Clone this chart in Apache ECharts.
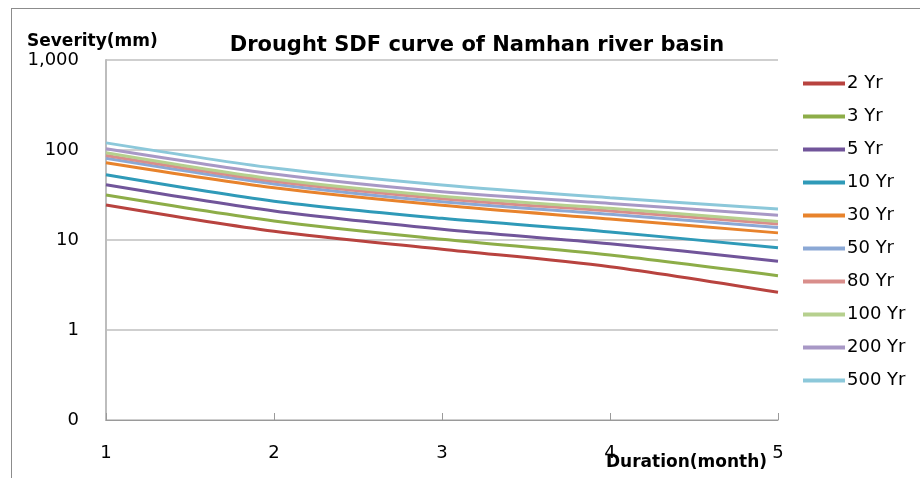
<!DOCTYPE html>
<html><head><meta charset="utf-8">
<script src="https://cdn.jsdelivr.net/npm/echarts@6/dist/echarts.min.js"></script>
<style>html,body{margin:0;padding:0;background:#fff;overflow:hidden}
#wrap{position:relative;width:920px;height:478px;overflow:hidden}
#frame{position:absolute;left:11px;top:8px;width:1000px;height:1000px;border:1px solid #8c8c8c;box-sizing:border-box}
#c{position:absolute;left:0;top:0;width:920px;height:478px}</style>
</head><body><div id="wrap"><div id="frame"></div><div id="c"></div></div>
<script>
const durations = [1, 2, 3, 4, 5];
const seriesNames = ['2 Yr','3 Yr','5 Yr','10 Yr','30 Yr','50 Yr','80 Yr','100 Yr','200 Yr','500 Yr'];
const yr2   = [24.5, 12.5, 7.9, 5.05, 2.62];
const yr3   = [31.6, 16.3, 10.2, 6.8, 4.0];
const yr5   = [41, 21, 13.2, 9.1, 5.8];
const yr10  = [53, 27, 17.4, 12.3, 8.2];
const yr30  = [72, 38, 24.3, 17.1, 12.0];
const yr50  = [81, 42, 26.6, 19.3, 13.8];
const yr80  = [87, 45, 28.8, 21, 15.1];
const yr100 = [93, 47.5, 30.6, 22.5, 16.1];
const yr200 = [103, 54, 34.4, 25.5, 18.8];
const yr500 = [120, 63, 40.8, 29.5, 22.1];
const yTickLabels = {0.1:'0', 1:'1', 10:'10', 100:'100', 1000:'1,000'};
const colors = ['#B8433F','#8DAD48','#71559A','#2F9AB8','#E8832C','#8BA8D5','#D98E8B','#B6D08E','#A898C6','#8CC8DA'];
const allData = [yr2,yr3,yr5,yr10,yr30,yr50,yr80,yr100,yr200,yr500];

const FONT = '"DejaVu Sans", sans-serif';
const chart = echarts.init(document.getElementById('c'), null, {renderer:'canvas'});
chart.setOption({
  animation: false,
  color: colors,
  title: {
    text: 'Drought SDF curve of Namhan river basin',
    left: 472, top: 30, textAlign: 'center',
    textStyle: {fontFamily: FONT, fontSize: 21, fontWeight: 'bold', color: '#000'}
  },
  graphic: [
    {type:'text', left:27, top:33, style:{text:'Severity(mm)', font:'bold 17px "DejaVu Sans", sans-serif', fill:'#000'}},
    {type:'text', left:606, top:454, style:{text:'Duration(month)', font:'bold 17px "DejaVu Sans", sans-serif', fill:'#000'}, z:10}
  ],
  legend: {
    orient: 'vertical',
    left: 798, top: 69,
    itemWidth: 42, itemHeight: 4, itemGap: 14,
    icon: 'rect',
    data: seriesNames,
    textStyle: {fontFamily: FONT, fontSize: 18, color: '#000', lineHeight: 19, padding:[0,0,0,-3]}
  },
  grid: {left: 106, right: 142, top: 60, bottom: 58, containLabel: false},
  xAxis: {
    type: 'value', min: 1, max: 5, interval: 1,
    axisLine: {lineStyle: {color: '#9a9a9a', width: 1}},
    axisTick: {inside: true, length: 7, lineStyle: {color: '#9a9a9a'}},
    axisLabel: {margin: 24, fontFamily: FONT, fontSize: 18, color: '#000'},
    splitLine: {show: false}
  },
  yAxis: {
    type: 'log', logBase: 10, min: 0.1, max: 1000,
    axisLine: {show: true, lineStyle: {color: '#bdbdbd', width: 2}},
    axisTick: {show: false},
    minorTick: {show: false},
    axisLabel: {margin: 27, fontFamily: FONT, fontSize: 18, color: '#000',
      formatter: v => { const k = Math.round(Math.log10(v)); return yTickLabels[Math.pow(10,k) >= 1 ? Math.pow(10,k) : 0.1] ?? String(v); }},
    splitLine: {show: true, lineStyle: {color: '#bfbfbf', width: 1.5}}
  },
  series: seriesNames.map((n, i) => ({
    name: n, type: 'line', smooth: 0.3, showSymbol: false, symbol: 'none',
    lineStyle: {width: 3, color: colors[i]}, itemStyle: {color: colors[i]},
    data: durations.map((d, j) => [d, allData[i][j]])
  }))
});
</script></body></html>
